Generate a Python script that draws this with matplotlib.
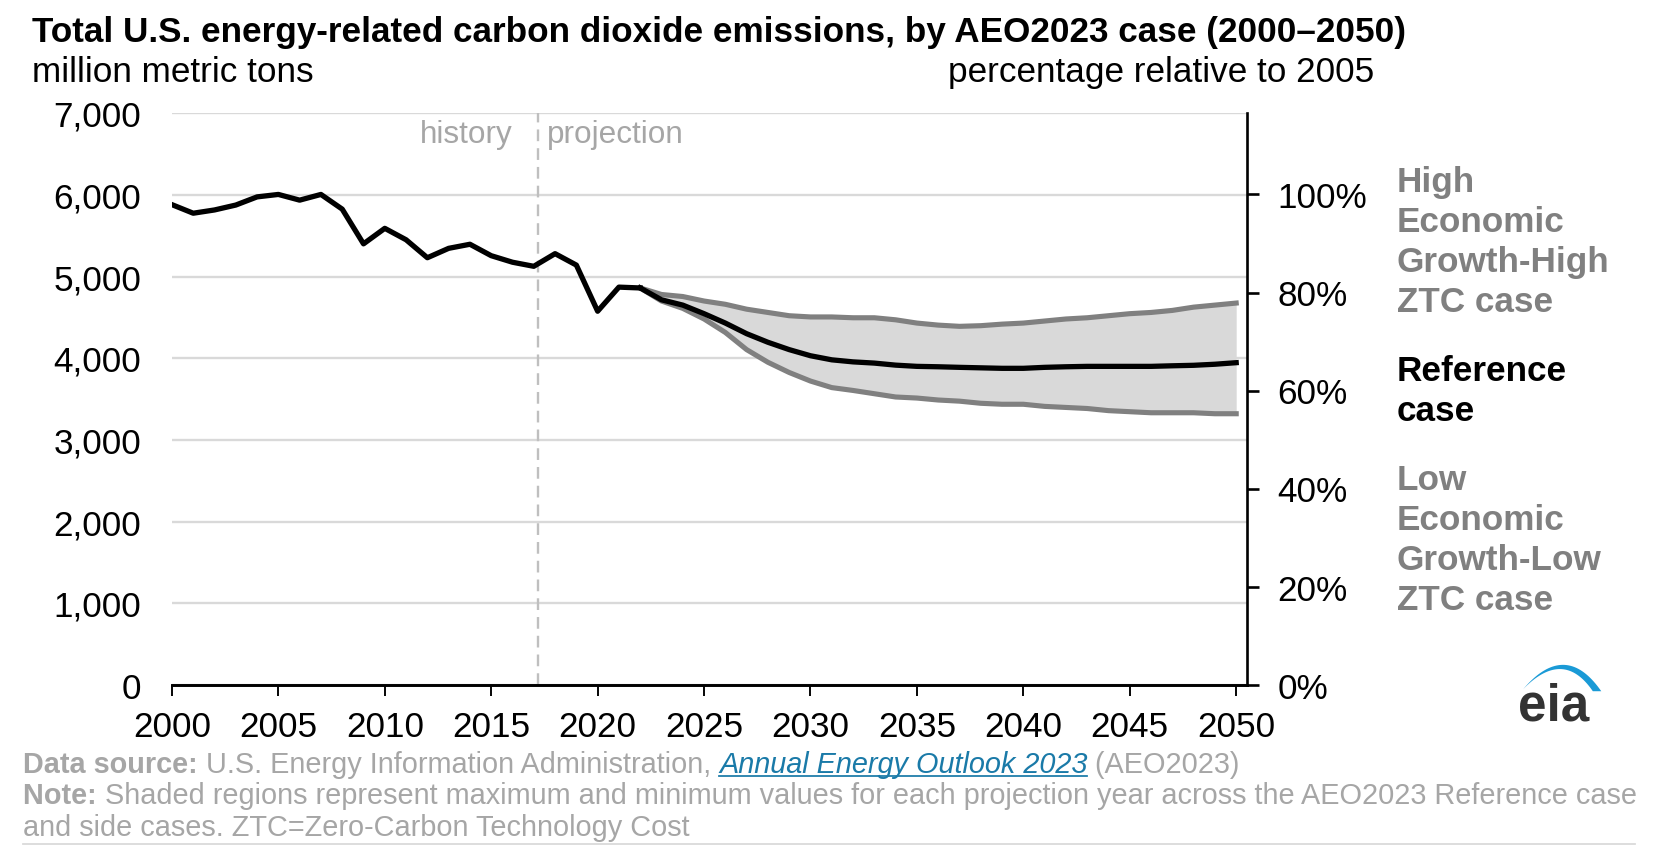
import numpy as np
import matplotlib.pyplot as plt
from matplotlib.patches import Polygon

plt.rcParams['font.family'] = ['Liberation Sans', 'DejaVu Sans']

# history 2000-2022, million metric tons
hist_years = list(range(2000, 2023))
hist_vals = [5880, 5775, 5815, 5875, 5975, 6005, 5935, 6005, 5825, 5400,
             5590, 5450, 5230, 5345, 5395, 5255, 5175, 5125, 5280, 5140,
             4575, 4870, 4860]

# projections 2022-2050
proj_years = list(range(2022, 2051))
ref_vals = [4860, 4715, 4650, 4545, 4430, 4300, 4195, 4105, 4030, 3980,
            3955, 3940, 3915, 3900, 3895, 3888, 3882, 3876, 3876, 3888,
            3895, 3900, 3900, 3900, 3900, 3907, 3913, 3926, 3945]
high_vals = [4860, 4780, 4755, 4700, 4660, 4600, 4560, 4520, 4505, 4505,
             4495, 4495, 4470, 4430, 4405, 4390, 4398, 4417, 4430, 4455,
             4480, 4495, 4520, 4545, 4560, 4585, 4625, 4650, 4675]
low_vals = [4860, 4700, 4610, 4480, 4315, 4105, 3950, 3825, 3720, 3640,
            3605, 3565, 3525, 3512, 3488, 3474, 3448, 3436, 3436, 3410,
            3397, 3384, 3358, 3345, 3332, 3332, 3332, 3320, 3320]

base_2005 = hist_vals[hist_years.index(2005)]
split_year = 2017.2

# layout is worked out on a 1568x816 grid, saved at 1654x861
W, H = 1568, 816
fig = plt.figure(figsize=(W / 100, H / 100), dpi=100 * 1654 / 1568)


def fx(px):
    return px / W


def fy(py):
    return 1 - py / H


ax = fig.add_axes([fx(163), fy(650), (1182 - 163) / W, (650 - 108) / H])

ax.fill_between(proj_years, low_vals, high_vals, color='#d9d9d9', lw=0, zorder=1)
ax.plot(proj_years, high_vals, color='#808080', lw=3.5, zorder=2)
ax.plot(proj_years, low_vals, color='#808080', lw=3.5, zorder=2)
ax.plot(proj_years, ref_vals, color='black', lw=3.6, zorder=3)
ax.plot(hist_years, hist_vals, color='black', lw=3.6, zorder=3)

ax.axvline(split_year, color='#bfbfbf', lw=1.6, ls=(0, (5, 3)), zorder=1)
ax.text(split_year - 1.2, 6740, 'history', ha='right', va='center', fontsize=21.5, color='#a6a6a6')
ax.text(split_year + 0.4, 6740, 'projection', ha='left', va='center', fontsize=21.5, color='#a6a6a6')

ax.set_xlim(2000, 2050.5)
ax.set_ylim(0, 7000)
ax.set_yticks(range(0, 7001, 1000))
ax.set_yticklabels(['{:,}'.format(v) for v in range(0, 7001, 1000)])
ax.set_xticks(range(2000, 2051, 5))
ax.grid(axis='y', color='#d9d9d9', lw=1.6)
ax.set_axisbelow(True)
for s in ['left', 'top', 'right']:
    ax.spines[s].set_visible(False)
ax.spines['bottom'].set_linewidth(2)
ax.tick_params(axis='y', length=0, pad=21, labelsize=24)
ax.tick_params(axis='x', length=7.5, width=1.3, direction='out', pad=10, labelsize=24)

ax2 = ax.twinx()
ax2.set_ylim(0, 7000 / base_2005 * 100)
ax2.set_yticks(range(0, 101, 20))
ax2.set_yticklabels(['{}%'.format(v) for v in range(0, 101, 20)])
for s in ['left', 'top', 'bottom']:
    ax2.spines[s].set_visible(False)
ax2.spines['right'].set_linewidth(1.8)
ax2.tick_params(axis='y', length=8, width=1.8, direction='out', pad=13, labelsize=24)

# titles
fig.text(fx(30), fy(31), 'Total U.S. energy-related carbon dioxide emissions, by AEO2023 case (2000\u20132050)',
         fontsize=24, fontweight='bold', va='center', ha='left')
fig.text(fx(30), fy(69), 'million metric tons', fontsize=24, va='center', ha='left')
fig.text(fx(1303), fy(69), 'percentage relative to 2005', fontsize=24, va='center', ha='right')

# case labels
fig.text(fx(1324), fy(230), 'High\nEconomic\nGrowth-High\nZTC case', fontsize=24, fontweight='bold',
         color='#808080', va='center', ha='left', linespacing=1.27)
fig.text(fx(1324), fy(371), 'Reference\ncase', fontsize=24, fontweight='bold',
         color='black', va='center', ha='left', linespacing=1.27)
fig.text(fx(1324), fy(512), 'Low\nEconomic\nGrowth-Low\nZTC case', fontsize=24, fontweight='bold',
         color='#808080', va='center', ha='left', linespacing=1.27)

# eia logo
fig.text(fx(1473), fy(670), 'eia', fontsize=35, fontweight='bold', color='#333333',
         ha='center', va='center')
t = np.linspace(0, 1, 40)


def bez(p0, p1, p2):
    return [((1 - u) ** 2 * p0[0] + 2 * u * (1 - u) * p1[0] + u ** 2 * p2[0],
             (1 - u) ** 2 * p0[1] + 2 * u * (1 - u) * p1[1] + u ** 2 * p2[1]) for u in t]


outer = bez((1444, 654), (1484, 607), (1518, 656))
inner = bez((1444, 654), (1482, 615), (1510, 656))[::-1]
swoosh = [(fx(x), fy(y)) for x, y in outer + inner]
fig.add_artist(Polygon(swoosh, closed=True, transform=fig.transFigure, color='#1a9ad6', lw=0))

# footer
renderer = fig.canvas.get_renderer()
grey = '#a6a6a6'


def write_line(y_px, parts):
    x = fx(22)
    made = []
    for txt, kw in parts:
        opts = dict(fontsize=19.7, va='center', ha='left', color=grey)
        opts.update(kw)
        tx = fig.text(x, fy(y_px), txt, **opts)
        bb = tx.get_window_extent(renderer=renderer)
        x += bb.width / fig.bbox.width
        made.append(tx)
    return made


parts = write_line(725, [('Data source: ', {'fontweight': 'bold'}),
                         ('U.S. Energy Information Administration, ', {}),
                         ('Annual Energy Outlook 2023', {'style': 'italic', 'color': '#1a7aa8'}),
                         (' (AEO2023)', {})])
lb = parts[2].get_window_extent(renderer=renderer)
fig.add_artist(plt.Line2D([lb.x0 / fig.bbox.width, lb.x1 / fig.bbox.width],
                          [lb.y0 / fig.bbox.height + 0.002] * 2, color='#1a7aa8', lw=1.2))
write_line(755, [('Note: ', {'fontweight': 'bold'}),
                 ('Shaded regions represent maximum and minimum values for each projection year across the AEO2023 Reference case', {})])
write_line(785, [('and side cases. ZTC=Zero-Carbon Technology Cost', {})])
fig.add_artist(plt.Line2D([fx(22), fx(1550)], [fy(801)] * 2, color='#d9d9d9', lw=1.2))

fig.savefig('out.png', dpi=100 * 1654 / 1568)
